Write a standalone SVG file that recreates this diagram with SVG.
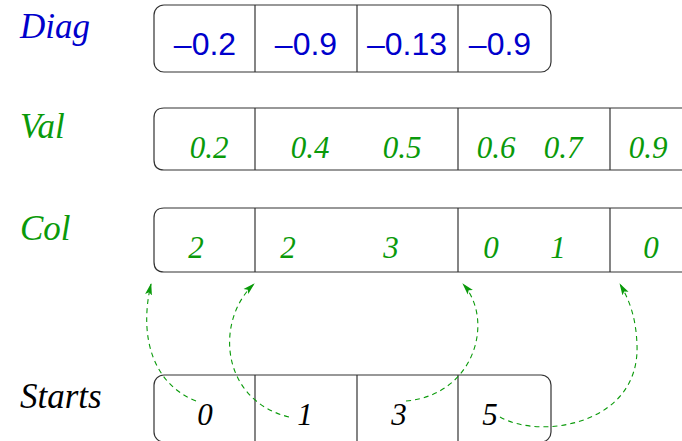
<svg xmlns="http://www.w3.org/2000/svg" width="682" height="441" viewBox="0 0 682 441">
<defs>
<marker id="ah" viewBox="0 0 12 8" refX="11" refY="4" markerWidth="12" markerHeight="8" markerUnits="userSpaceOnUse" orient="auto">
<path d="M0,0.5 L12,4 L0,7.5 L2.5,4 Z" fill="#0a9a0a"/>
</marker>
</defs>

<g id="diag">
<text x="20" y="38" fill="#0000cc" font-family="Liberation Serif" font-style="italic" font-size="35">Diag</text>
<g fill="none" stroke="#333" stroke-width="1.2">
<rect x="154" y="5" width="397" height="67" rx="10"/>
<line x1="255" y1="5" x2="255" y2="72"/>
<line x1="357" y1="5" x2="357" y2="72"/>
<line x1="458" y1="5" x2="458" y2="72"/>
</g>
<g font-family="Liberation Sans" font-size="32" text-anchor="middle" fill="#0000cc">
<text x="205" y="55">&#8211;0.2</text>
<text x="306" y="55">&#8211;0.9</text>
<text x="407" y="55">&#8211;0.13</text>
<text x="500" y="55">&#8211;0.9</text>
</g>
</g>

<g id="val">
<text x="20" y="138" fill="#0a9a0a" font-family="Liberation Serif" font-style="italic" font-size="35">Val</text>
<g fill="none" stroke="#333" stroke-width="1.2">
<path d="M690,108 H164 Q154,108 154,118 V160 Q154,170 164,170 H690"/>
<line x1="255" y1="108" x2="255" y2="170"/>
<line x1="458" y1="108" x2="458" y2="170"/>
<line x1="610" y1="108" x2="610" y2="170"/>
</g>
<g font-family="Liberation Serif" font-style="italic" font-size="31" text-anchor="middle" fill="#0a9a0a">
<text x="209" y="158">0.2</text>
<text x="310" y="158">0.4</text>
<text x="402" y="158">0.5</text>
<text x="496" y="158">0.6</text>
<text x="563" y="158">0.7</text>
<text x="648" y="158">0.9</text>
</g>
</g>

<g id="col">
<text x="20" y="240" fill="#0a9a0a" font-family="Liberation Serif" font-style="italic" font-size="35">Col</text>
<g fill="none" stroke="#333" stroke-width="1.2">
<path d="M690,208 H164 Q154,208 154,218 V262 Q154,272 164,272 H690"/>
<line x1="255" y1="208" x2="255" y2="272"/>
<line x1="458" y1="208" x2="458" y2="272"/>
<line x1="610" y1="208" x2="610" y2="272"/>
</g>
<g font-family="Liberation Serif" font-style="italic" font-size="31" text-anchor="middle" fill="#0a9a0a">
<text x="196" y="258">2</text>
<text x="288" y="258">2</text>
<text x="391" y="258">3</text>
<text x="491" y="258">0</text>
<text x="558" y="258">1</text>
<text x="651" y="258">0</text>
</g>
</g>

<g id="starts">
<text x="20" y="408" fill="#000" font-family="Liberation Serif" font-style="italic" font-size="35">Starts</text>
<g fill="none" stroke="#333" stroke-width="1.2">
<rect x="154" y="375" width="397" height="67" rx="10"/>
<line x1="255" y1="375" x2="255" y2="441"/>
<line x1="357" y1="375" x2="357" y2="441"/>
<line x1="458" y1="375" x2="458" y2="441"/>
</g>
<g font-family="Liberation Serif" font-style="italic" font-size="31" text-anchor="middle" fill="#000">
<text x="205" y="425">0</text>
<text x="305" y="425">1</text>
<text x="399" y="425">3</text>
<text x="490" y="425">5</text>
</g>
</g>

<g id="connectors" fill="none" stroke="#0a9a0a" stroke-width="1.1" stroke-dasharray="5,4" marker-end="url(#ah)">
<path d="M196,401 C155,385 138,340 151,284"/>
<path d="M289,417 C220,400 215,320 254,284"/>
<path d="M406,401 C475,395 495,320 463,284"/>
<path d="M500,417 C540,440 640,425 637,345 C636,315 628,298 620,284"/>
</g>
</svg>
